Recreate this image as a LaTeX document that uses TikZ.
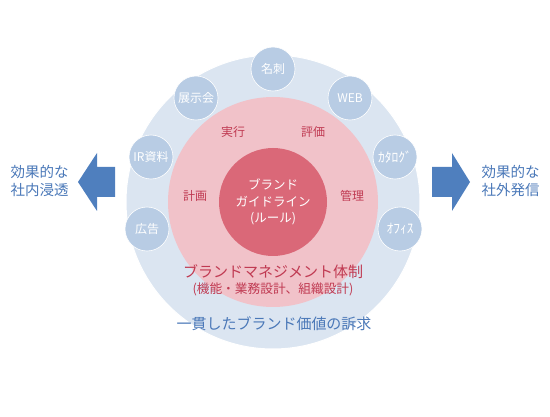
\documentclass[tikz,border=0pt]{standalone}
\usepackage{fontspec}
\setmainfont{Noto Sans CJK JP}
\definecolor{outerblue}{HTML}{DBE5F1}
\definecolor{smallblue}{HTML}{B8CCE4}
\definecolor{pinkc}{HTML}{F1C2C9}
\definecolor{innerred}{HTML}{DA6878}
\definecolor{redtext}{HTML}{C03A52}
\definecolor{bluetext}{HTML}{4A78B8}
\definecolor{arrowblue}{HTML}{4F7FBE}
\tikzset{
  ring/.style={circle, inner sep=0pt},
  item/.style={circle, fill=smallblue, draw=white, line width=0.6pt, minimum size=44pt, inner sep=0pt, text=white, font=\fontsize{12}{14}\selectfont},
  halfwidth/.style={font=\fontsize{13.5}{15}\selectfont},
  phase/.style={text=redtext, font=\fontsize{12}{14}\selectfont},
  sidetext/.style={text=bluetext, align=left, font=\fontsize{14.5}{18.5}\selectfont},
  bigarrow/.style={fill=arrowblue, draw=none},
}
\begin{document}
\begin{tikzpicture}[x=1pt,y=-1pt]
\useasboundingbox (0,0) rectangle (550,417);
% rings
\node[ring, fill=outerblue, draw=white, line width=1pt, minimum size=294pt] (outer) at (273,202) {};
\node[ring, fill=pinkc, minimum size=210pt] (middle) at (273,202) {};
\node[ring, fill=innerred, minimum size=108pt, text=white, align=center, font=\fontsize{12.5}{16.5}\selectfont] (inner) at (273,202) {ブランド\\ガイドライン\\(ルール)};
% small circles
\node[item] (meishi) at (273,69) {名刺};
\node[item] (tenji) at (196,98) {展示会};
\node[item] (web) at (350,98) {WEB};
\node[item] (ir) at (151,157) {IR資料};
\node[item, halfwidth] (catalog) at (395,157) {ｶﾀﾛｸﾞ};
\node[item] (koukoku) at (147,229) {広告};
\node[item, halfwidth] (office) at (400,229) {ｵﾌｨｽ};
% phases
\node[phase] (jikko) at (233,132) {実行};
\node[phase] (hyoka) at (313,132) {評価};
\node[phase] (keikaku) at (195,196) {計画};
\node[phase] (kanri) at (352,196) {管理};
% management labels
\node[text=redtext, font=\fontsize{15}{17}\selectfont] (taisei) at (273,272) {ブランドマネジメント体制};
\node[text=redtext, font=\fontsize{12.7}{14}\selectfont] (kino) at (273,289) {(機能・業務設計、組織設計)};
\node[text=bluetext, font=\fontsize{15}{17}\selectfont] (ikkan) at (274,324) {一貫したブランド価値の訴求};
% arrows
\fill[bigarrow] (115,167) -- (97,167) -- (97,153) -- (78,182) -- (97,211) -- (97,197) -- (115,197) -- cycle;
\fill[bigarrow] (432,167) -- (452,167) -- (452,153) -- (470,182) -- (452,211) -- (452,197) -- (432,197) -- cycle;
% side texts
\node[sidetext, anchor=west] (naibu) at (7,181) {効果的な\\社内浸透};
\node[sidetext, anchor=west] (gaibu) at (478,181) {効果的な\\社外発信};
\end{tikzpicture}
\end{document}
